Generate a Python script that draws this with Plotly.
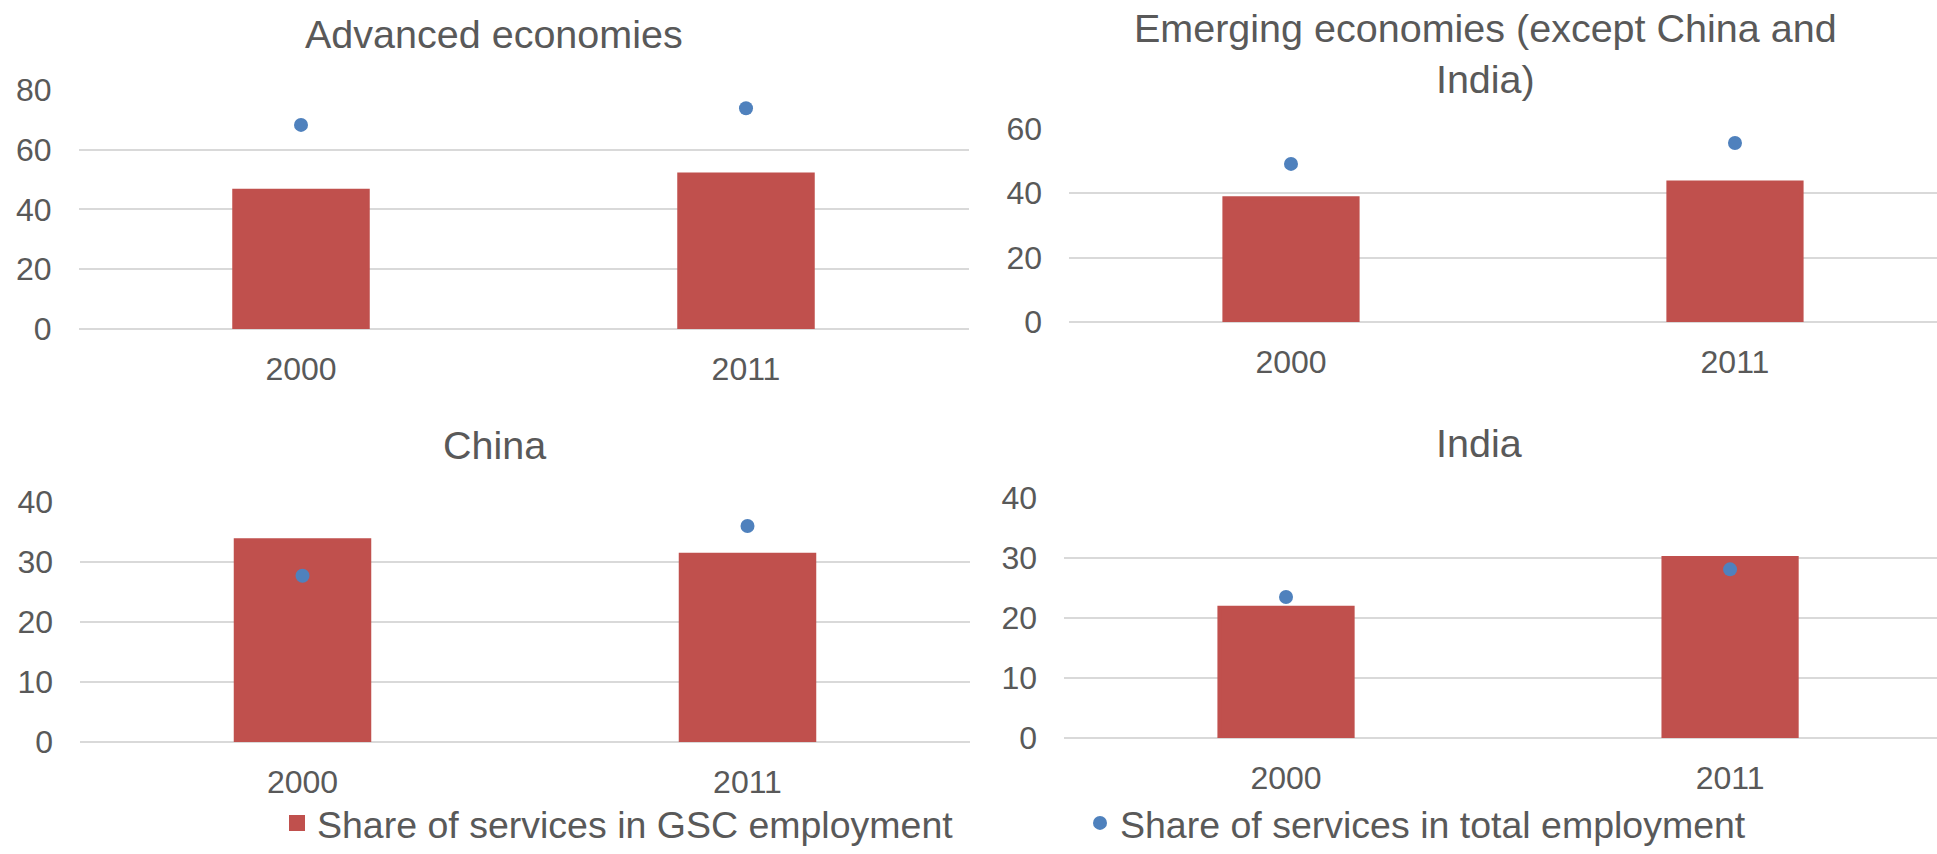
import plotly.graph_objects as go

YEARS = ["2000", "2011"]
PANELS = ["Advanced economies", "Emerging economies (except China and<br>India)", "China", "India"]

# share of services in GSC employment (bars)
gsc_advanced = [46.3, 51.7]
gsc_emerging = [38.4, 43.3]
gsc_china = [33.6, 31.2]
gsc_india = [21.7, 30.0]

# share of services in total employment (dots)
total_advanced = [68.3, 73.9]
total_emerging = [49.1, 55.6]
total_china = [27.7, 36.0]
total_india = [23.5, 28.1]

Y_MAX = [80, 60, 40, 40]
Y_DTICK = [20, 20, 10, 10]

BAR_COLOR = "#c0504d"
DOT_COLOR = "#4f81bd"
GRID_COLOR = "#d9d9d9"
TEXT_COLOR = "#595959"
FONT = "Liberation Sans, Arial, sans-serif"

W, H = 1937, 854


def px_x(v):
    return v / W


def px_y(v):
    return 1 - v / H


# (x0, x1, y_top, y_bottom, x range right end), pixels
PANEL_BOX = [
    (78.5, 968.5, 89, 329, 1.5),
    (1069, 1937, 128, 322, 1.455),
    (80, 970, 501, 742, 1.5),
    (1064, 1937, 497, 738, 1.466),
]
TITLE_POS = [(494, 34), (1485, 54), (494, 445), (1479, 443)]

fig = go.Figure()

bars = [gsc_advanced, gsc_emerging, gsc_china, gsc_india]
dots = [total_advanced, total_emerging, total_china, total_india]

for i in range(4):
    suffix = "" if i == 0 else str(i + 1)
    fig.add_trace(go.Bar(
        x=YEARS, y=bars[i],
        marker=dict(color=BAR_COLOR, line=dict(color=BAR_COLOR, width=4)),
        width=0.3,
        name="Share of services in GSC employment",
        showlegend=(i == 0),
        legend="legend",
        xaxis="x" + suffix, yaxis="y" + suffix,
    ))
    fig.add_trace(go.Scatter(
        x=YEARS, y=dots[i], mode="markers",
        marker=dict(color=DOT_COLOR, size=14),
        name="Share of services in total employment",
        showlegend=(i == 0),
        legend="legend2",
        xaxis="x" + suffix, yaxis="y" + suffix,
    ))

layout = dict(
    width=W, height=H,
    margin=dict(l=0, r=0, t=0, b=0, autoexpand=False),
    plot_bgcolor="white",
    paper_bgcolor="white",
    font=dict(family=FONT, color=TEXT_COLOR, size=32),
    legend=dict(
        x=px_x(277), y=0, xanchor="left", yanchor="bottom",
        font=dict(size=37.5, color=TEXT_COLOR), bgcolor="rgba(0,0,0,0)",
    ),
    legend2=dict(
        x=px_x(1080), y=0, xanchor="left", yanchor="bottom",
        font=dict(size=37.5, color=TEXT_COLOR), bgcolor="rgba(0,0,0,0)",
    ),
)

annotations = []
for i in range(4):
    suffix = "" if i == 0 else str(i + 1)
    x0, x1, yt, yb, xr = PANEL_BOX[i]
    layout["xaxis" + suffix] = dict(
        domain=[px_x(x0), min(px_x(x1), 1.0)],
        anchor="y" + suffix,
        type="category",
        range=[-0.5, xr],
        showgrid=False,
        showline=False,
        ticks="",
        ticklabelstandoff=18,
        automargin=False,
        tickfont=dict(size=32, color=TEXT_COLOR),
    )
    layout["yaxis" + suffix] = dict(
        domain=[px_y(yb), px_y(yt)],
        anchor="x" + suffix,
        range=[0, Y_MAX[i] * 1.004],
        tickvals=list(range(0, Y_MAX[i] + 1, Y_DTICK[i])),
        showgrid=True,
        gridcolor=GRID_COLOR,
        gridwidth=2,
        zeroline=True,
        zerolinecolor=GRID_COLOR,
        zerolinewidth=2,
        ticks="",
        ticklabelstandoff=26,
        automargin=False,
        tickfont=dict(size=32, color=TEXT_COLOR),
    )
    tx, ty = TITLE_POS[i]
    annotations.append(dict(
        text=PANELS[i], x=px_x(tx), y=px_y(ty),
        xref="paper", yref="paper", xanchor="center", yanchor="middle",
        showarrow=False, font=dict(size=39.5, color=TEXT_COLOR),
    ))

layout["annotations"] = annotations
fig.update_layout(**layout)

# drop the default body margin so the figure fills the window exactly
fig.write_html(
    "out.html",
    config={"displayModeBar": False},
    post_script="document.body.style.margin = '0';",
)
